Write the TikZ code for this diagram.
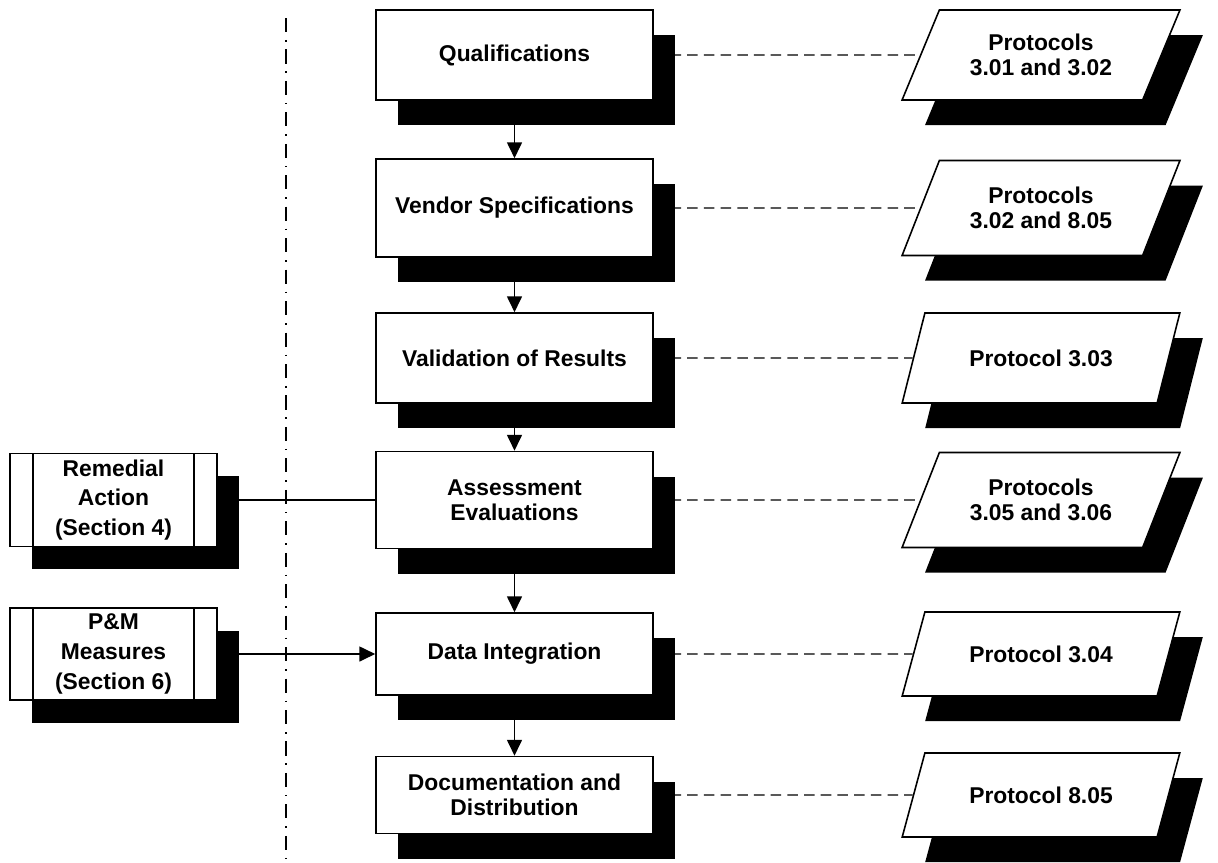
\documentclass[tikz,border=0pt]{standalone}
\usepackage{fontspec}
\setmainfont{Liberation Sans}
\usetikzlibrary{shapes.geometric}
\usetikzlibrary{shadows}
\usetikzlibrary{arrows.meta}

\begin{document}
\begin{tikzpicture}[node distance=10.53cm,
		stage/.style={rectangle, draw, line width=0.9pt, fill=white, minimum width=5.54cm, minimum height=1.8cm, align=center, font=\bfseries\fontsize{13}{14.5}\selectfont, drop shadow={shadow xshift=0.44cm, shadow yshift=-0.5cm, fill=black, opacity=1}},
		proto/.style={trapezium, trapezium left angle=62, trapezium right angle=118, trapezium stretches=true, draw, line width=0.9pt, fill=white, minimum width=5.56cm, minimum height=1.8cm, align=center, font=\bfseries\fontsize{13}{14}\selectfont, drop shadow={shadow xshift=0.46cm, shadow yshift=-0.5cm, fill=black, opacity=1}},
		extern/.style={rectangle, draw, line width=0.9pt, fill=white, minimum width=4.14cm, minimum height=1.8cm, align=center, font=\bfseries\fontsize{13}{17}\selectfont, drop shadow={shadow xshift=0.44cm, shadow yshift=-0.45cm, fill=black, opacity=1},
			path picture={\draw[line width=0.9pt] ([xshift=0.46cm]path picture bounding box.north west) -- ([xshift=0.46cm]path picture bounding box.south west);
				\draw[line width=0.9pt] ([xshift=-0.46cm]path picture bounding box.north east) -- ([xshift=-0.46cm]path picture bounding box.south east);}},
		flow/.style={line width=0.8pt, -{Triangle[width=8.5pt,length=9pt]}},
		link/.style={line width=0.8pt, dash pattern=on 6pt off 3.5pt},
		divider/.style={line width=0.8pt, dash pattern=on 8pt off 4.5pt on 0.9pt off 4.5pt}]
		\useasboundingbox (0,0) rectangle (24.36,-17.26);
		
		\coordinate (divtop) at (5.72,-0.36);
		\coordinate (divbot) at (5.72,-17.26);
		\draw [divider] (divtop) -- (divbot);
		
		\node (qual)    [stage] at (10.29,-1.1)  {Qualifications};
		\node (vendor)  [stage, minimum height=1.96cm] at (10.29,-4.16) {Vendor Specifications};
		\node (valid)   [stage] at (10.29,-7.16) {Validation of Results};
		\node (assess)  [stage, minimum height=1.94cm] at (10.29,-10.0) {Assessment\\Evaluations};
		\node (dataint) [stage, minimum height=1.64cm] at (10.29,-13.08) {Data Integration};
		\node (docu)    [stage, minimum height=1.54cm] at (10.29,-15.9) {Documentation and\\Distribution};
		
		\node (pqual)    [proto, right of=qual] {Protocols\\3.01 and 3.02};
		\node (pvendor)  [proto, right of=vendor, minimum height=1.9cm] {Protocols\\3.02 and 8.05};
		\node (pvalid)   [proto, right of=valid] {Protocol 3.03};
		\node (passess)  [proto, right of=assess, minimum height=1.9cm] {Protocols\\3.05 and 3.06};
		\node (pdataint) [proto, right of=dataint, minimum height=1.68cm] {Protocol 3.04};
		\node (pdocu)    [proto, right of=docu, minimum height=1.68cm] {Protocol 8.05};
		
		\node (remedial) [extern, left of=assess, node distance=8.02cm] {Remedial\\Action\\(Section 4)};
		\node (pm)       [extern, left of=dataint, node distance=8.02cm, minimum height=1.84cm] {P\&M\\Measures\\(Section 6)};
		
		\draw [flow] (qual) -- (vendor);
		\draw [flow] (vendor) -- (valid);
		\draw [flow] (valid) -- (assess);
		\draw [flow] (assess) -- (dataint);
		\draw [flow] (dataint) -- (docu);
		
		\draw [link] (qual) -- (pqual);
		\draw [link] (vendor) -- (pvendor);
		\draw [link] (valid) -- (pvalid);
		\draw [link] (assess) -- (passess);
		\draw [link] (dataint) -- (pdataint);
		\draw [link] (docu) -- (pdocu);
		
		\draw [line width=0.8pt] (remedial) -- (assess);
		\draw [flow] (pm) -- (dataint);
	\end{tikzpicture}
\end{document}
